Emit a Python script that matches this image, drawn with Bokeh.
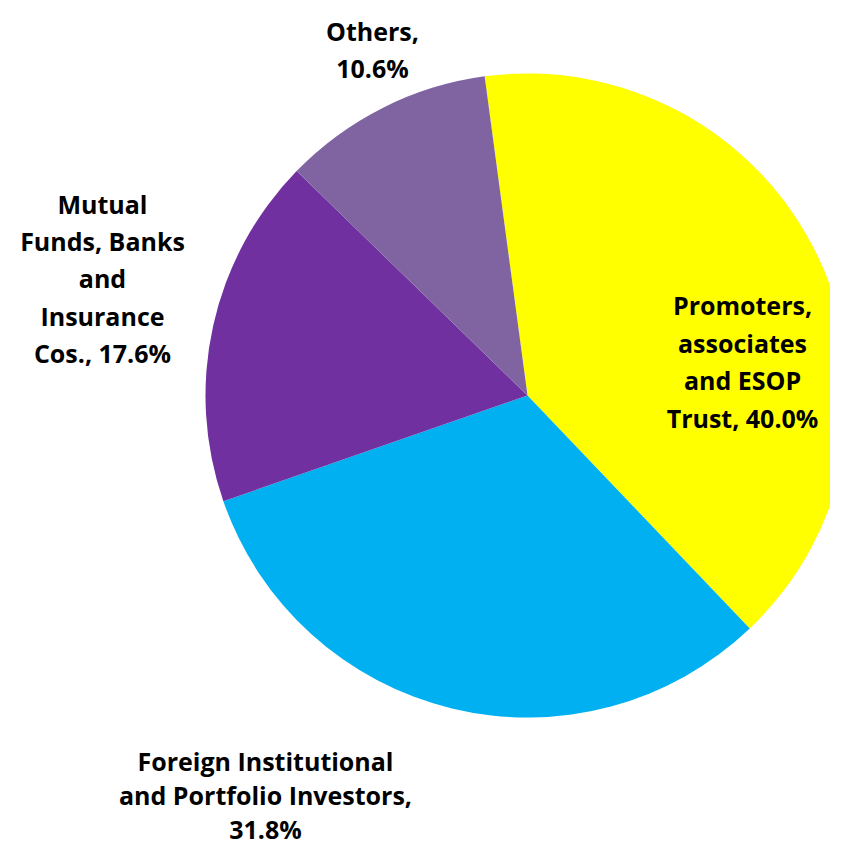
import numpy as np
from bokeh.plotting import figure
from bokeh.models import Range1d, ColumnDataSource
from bokeh.core.properties import value
from bokeh.embed import file_html
from bokeh.resources import INLINE

# ---- data ----
categories = [
    "Promoters, associates and ESOP Trust",
    "Foreign Institutional and Portfolio Investors",
    "Mutual Funds, Banks and Insurance Cos.",
    "Others",
]
shares = [40.0, 31.8, 17.6, 10.6]
label_texts = [
    "Promoters,\nassociates\nand ESOP\nTrust, 40.0%",
    "Foreign Institutional\nand Portfolio Investors,\n31.8%",
    "Mutual\nFunds, Banks\nand\nInsurance\nCos., 17.6%",
    "Others,\n10.6%",
]
colors = ["#FFFF00", "#00B0F0", "#7030A0", "#8064A2"]

# ---- layout (picture pixel coordinates, y measured upward from bottom) ----
W, H = 830, 848
PAGE_H = 864
cx, cy, r = 527, PAGE_H - 395, 322
start_rot = np.deg2rad(97.65)
label_x = [742, 265, 102, 372]
label_y = [PAGE_H - 361, PAGE_H - 794, PAGE_H - 278, PAGE_H - 49]
label_lh = [1.1, 1.0, 1.1, 1.1]

vals = np.array(shares)
frac = vals / vals.sum()
cum = np.concatenate([[0], np.cumsum(frac)])
starts = start_rot - 2 * np.pi * cum[:-1]
ends = start_rot - 2 * np.pi * cum[1:]

src = ColumnDataSource(dict(cat=categories, start=starts, end=ends, color=colors))

p = figure(width=W, height=H, output_backend="svg", toolbar_location=None,
           x_range=Range1d(0, W), y_range=Range1d(PAGE_H - H, PAGE_H),
           min_border=0)
p.axis.visible = False
p.grid.visible = False
p.outline_line_color = None
p.background_fill_color = "white"

p.wedge(x=cx, y=cy, radius=r, start_angle="start", end_angle="end",
        direction="clock", fill_color="color", line_color=None, source=src)

for i in range(len(label_texts)):
    lsrc = ColumnDataSource(dict(x=[label_x[i]], y=[label_y[i]], t=[label_texts[i]]))
    p.text(x="x", y="y", text="t", source=lsrc, text_font=value("Open Sans"),
           text_font_style="bold", text_font_size="25px", text_align="center",
           text_baseline="middle", text_line_height=label_lh[i], text_color="black")

open("out.html", "w").write(file_html(p, INLINE))
